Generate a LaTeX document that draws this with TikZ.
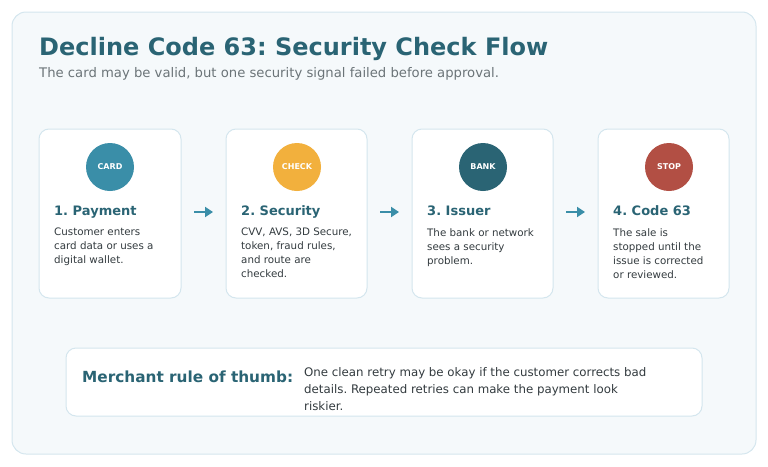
\documentclass[tikz,border=0pt]{standalone}
\usepackage{fontspec}
\setmainfont{DejaVu Sans}
\usetikzlibrary{arrows.meta}
\definecolor{bgp}{HTML}{F5F9FB}
\definecolor{bdr}{HTML}{D4E6EE}
\definecolor{teal}{HTML}{2A6474}
\definecolor{cblue}{HTML}{3A8EA8}
\definecolor{cyel}{HTML}{F2B03D}
\definecolor{cred}{HTML}{B24F44}
\definecolor{txt}{HTML}{333B3F}
\definecolor{sub}{HTML}{6B7478}
\begin{document}
\frenchspacing
\begin{tikzpicture}[x=1pt,y=-1pt,
 card/.style={draw=bdr,line width=1pt,fill=white,rounded corners=10pt},
 circ/.style={circle,minimum size=48pt,inner sep=0pt,text=white,font=\fontsize{8}{9}\selectfont\bfseries},
 head/.style={anchor=base west,text=teal,font=\fontsize{13}{15}\selectfont\bfseries,inner sep=0pt},
 body/.style={anchor=north west,text=txt,align=left,font=\fontsize{10.3}{14}\selectfont,inner sep=0pt},
 arr/.style={-{Triangle[length=8pt,width=10pt]},draw=cblue,line width=2.5pt}]
\useasboundingbox (0,0) rectangle (768,466);
\draw[fill=bgp,draw=bdr,line width=1pt,rounded corners=14pt] (12,12) rectangle (756,454);
\node[anchor=base west,inner sep=0pt,text=teal,font=\fontsize{24}{27}\selectfont\bfseries] (title) at (39,55) {Decline Code 63: Security Check Flow};
\node[anchor=base west,inner sep=0pt,text=sub,font=\fontsize{13.2}{15}\selectfont] (subt) at (39,77) {The card may be valid, but one security signal failed before approval.};
\draw[card] (39,129) rectangle (181,298);
\draw[card] (226,129) rectangle (367,298);
\draw[card] (412,129) rectangle (553,298);
\draw[card] (598,129) rectangle (729,298);
\node[circ,fill=cblue] (c1) at (110,167) {CARD};
\node[circ,fill=cyel] (c2) at (297,167) {CHECK};
\node[circ,fill=teal] (c3) at (483,167) {BANK};
\node[circ,fill=cred] (c4) at (669,167) {STOP};
\node[head] (h1) at (54,215) {1. Payment};
\node[head] (h2) at (241,215) {2. Security};
\node[head] (h3) at (427,215) {3. Issuer};
\node[head] (h4) at (613,215) {4. Code 63};
\node[body] (b1) at (54,228) {Customer enters\\card data or uses a\\digital wallet.};
\node[body] (b2) at (241,228) {CVV, AVS, 3D Secure,\\token, fraud rules,\\and route are\\checked.};
\node[body] (b3) at (427,228) {The bank or network\\sees a security\\problem.};
\node[body] (b4) at (613,228) {The sale is\\stopped until the\\issue is corrected\\or reviewed.};
\coordinate (a1s) at (194,212); \coordinate (a1e) at (213,212);
\coordinate (a2s) at (380,212); \coordinate (a2e) at (399,212);
\coordinate (a3s) at (566,212); \coordinate (a3e) at (585,212);
\draw[arr] (a1s) -- (a1e);
\draw[arr] (a2s) -- (a2e);
\draw[arr] (a3s) -- (a3e);
\draw[card] (66,348) rectangle (702,416);
\node[anchor=base west,inner sep=0pt,text=teal,font=\fontsize{15.3}{18}\selectfont\bfseries] (mr) at (82,382) {Merchant rule of thumb:};
\node[anchor=north west,inner sep=0pt,text=txt,align=left,font=\fontsize{11.8}{17}\selectfont] (mt) at (304,367) {One clean retry may be okay if the customer corrects bad\\details. Repeated retries can make the payment look\\riskier.};
\end{tikzpicture}
\end{document}
